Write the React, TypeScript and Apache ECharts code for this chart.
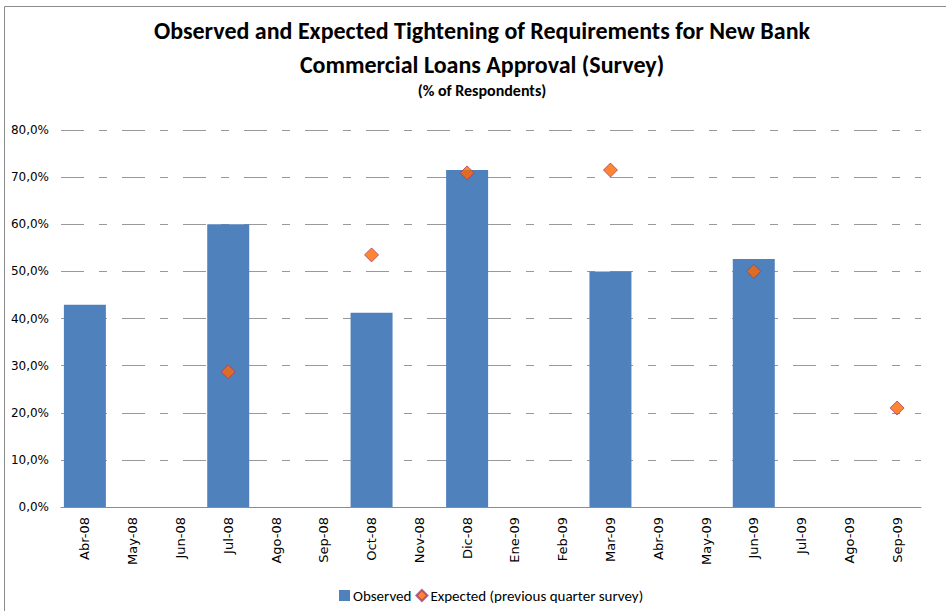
import React, { useEffect, useRef } from "react";
import * as echarts from "echarts";

const categories = ["Abr-08", "May-08", "Jun-08", "Jul-08", "Ago-08", "Sep-08", "Oct-08", "Nov-08", "Dic-08", "Ene-09", "Feb-09", "Mar-09", "Abr-09", "May-09", "Jun-09", "Jul-09", "Ago-09", "Sep-09"];
const observed: (number | null)[] = [42.9, null, null, 60.0, null, null, 41.2, null, 71.5, null, null, 50.0, null, null, 52.6, null, null, null];
const expected: (number | null)[] = [null, null, null, 28.7, null, null, 53.5, null, 70.9, null, null, 71.5, null, null, 50.0, null, null, 21.0];
const titleLine1 = "Observed and Expected Tightening of Requirements for New Bank";
const titleLine2 = "Commercial Loans Approval (Survey)";
const subtitle = "(% of Respondents)";

export default function App() {
  const ref = useRef<HTMLDivElement>(null);
  useEffect(() => {
    document.body.style.margin = "0";
    const chart = echarts.init(ref.current!, null, { renderer: "svg" });
    const titleFont = "Carlito, 'Liberation Sans Narrow', 'Open Sans', sans-serif";
    chart.setOption({
      animation: false,
      backgroundColor: "#ffffff",
      graphic: [
        { type: "rect", shape: { x: 4.5, y: 6.5, width: 960, height: 620 }, style: { fill: "none", stroke: "#8c8c8c", lineWidth: 1 }, silent: true, z: -1 },
        { type: "text", x: 482, y: 30, style: { text: titleLine1, font: "bold 24px " + titleFont, fill: "#000", align: "center", verticalAlign: "middle" } },
        { type: "text", x: 482, y: 64, style: { text: titleLine2, font: "bold 24px " + titleFont, fill: "#000", align: "center", verticalAlign: "middle" } },
        { type: "text", x: 482, y: 90, style: { text: subtitle, font: "bold 16px " + titleFont, fill: "#000", align: "center", verticalAlign: "middle" } },
      ],
      legend: {
        bottom: 3,
        left: 334,
        itemWidth: 11,
        itemHeight: 11,
        itemGap: 4,
        textStyle: { fontFamily: titleFont, fontSize: 15, color: "#000", padding: [0, 0, 0, -2] },
        data: [
          { name: "Observed", icon: "rect" },
          { name: "Expected (previous quarter survey)", icon: "diamond" },
        ],
      },
      grid: { left: 61, right: 25, top: 130, bottom: 104, containLabel: false },
      xAxis: {
        type: "category",
        data: categories,
        axisLine: { show: true, lineStyle: { color: "#8c8c8c", width: 1 } },
        axisTick: { show: false },
        axisLabel: { rotate: 90, fontFamily: "'DejaVu Sans', Verdana, sans-serif", fontSize: 13, color: "#000", margin: 10, interval: 0 },
      },
      yAxis: {
        type: "value",
        min: 0,
        max: 80,
        interval: 10,
        axisLine: { show: false },
        axisTick: { show: false },
        axisLabel: {
          fontFamily: "'DejaVu Sans', Verdana, sans-serif",
          fontSize: 12,
          color: "#000",
          margin: 12,
          formatter: (v: number) => v.toFixed(1).replace(".", ",") + "%",
        },
        splitLine: { show: true, lineStyle: { color: "#999999", width: 1, type: [23, 15, 8, 15] } },
      },
      series: [
        {
          name: "Observed",
          type: "bar",
          data: observed,
          barWidth: 42,
          itemStyle: { color: "#4F81BD" },
        },
        {
          name: "Expected (previous quarter survey)",
          type: "scatter",
          data: expected,
          symbol: "diamond",
          symbolSize: 14,
          itemStyle: { color: "#FF6600", borderColor: "#A0406A", borderWidth: 1 },
          z: 3,
        },
      ],
    });
    return () => chart.dispose();
  }, []);
  return <div ref={ref} style={{ width: 946, height: 611 }} />;
}
